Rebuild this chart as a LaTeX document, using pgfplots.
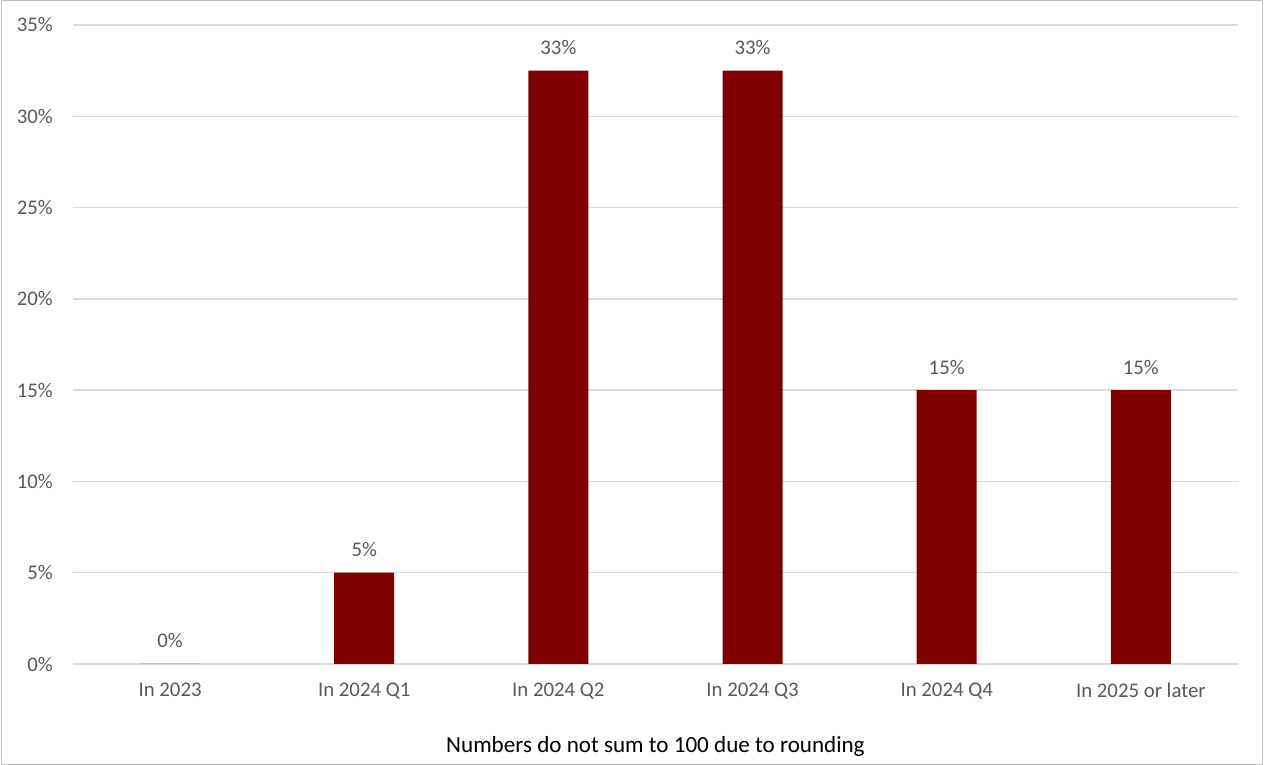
\documentclass[border=0pt]{standalone}
\usepackage{fontspec}
\setmainfont{Carlito}
\usepackage{pgfplots}
\pgfplotsset{compat=1.18}
\definecolor{barred}{RGB}{128,0,0}
\definecolor{ticktext}{RGB}{89,89,89}
\definecolor{gridgray}{RGB}{217,217,217}
\definecolor{framegray}{RGB}{190,190,190}
\begin{document}
\begin{tikzpicture}[x=1pt,y=1pt]
\useasboundingbox (0,0) rectangle (1264,765);
\draw[framegray, line width=1pt] (1.5,0.5) rectangle (1262.5,764.5);
\begin{axis}[
  at={(73pt,101pt)}, anchor=south west,
  scale only axis, width=1165pt, height=639pt,
  xmin=-0.5, xmax=5.5, ymin=0, ymax=35,
  ytick={0,5,...,35},
  xtick={0,...,5},
  xticklabels={In 2023, In 2024 Q1, In 2024 Q2, In 2024 Q3, In 2024 Q4, In 2025 or later},
  yticklabel={\pgfmathprintnumber{\tick}\%},
  /pgf/number format/assume math mode=true,
  axis line style={draw=none},
  major tick length=0pt,
  ymajorgrids,
  grid style={gridgray, line width=1.5pt},
  tick label style={font=\fontsize{20.8}{25}\selectfont, text=ticktext},
  yticklabel style={anchor=east, inner sep=0pt, xshift=-20pt},
  xticklabel style={anchor=north, inner sep=0pt, yshift=-19pt},
  xlabel={Numbers do not sum to 100 due to rounding},
  xlabel style={at={(axis description cs:0.5,0)}, anchor=base, yshift=-89pt,
    font=\fontsize{23.1}{27}\selectfont, text=black, inner sep=0pt},
  ybar, bar width=60pt,
  point meta=y,
  nodes near coords={\pgfmathprintnumber[fixed,precision=0]{\pgfplotspointmeta}\%},
  every node near coord/.append style={font=\fontsize{20.8}{25}\selectfont,
    text=ticktext, anchor=base, inner sep=0pt, yshift=16pt},
  clip=false,
]
\addplot[fill=barred, draw=none] coordinates {
  (0,0) (1,5) (2,32.5) (3,32.5) (4,15) (5,15)
};
\end{axis}
\end{tikzpicture}
\end{document}
